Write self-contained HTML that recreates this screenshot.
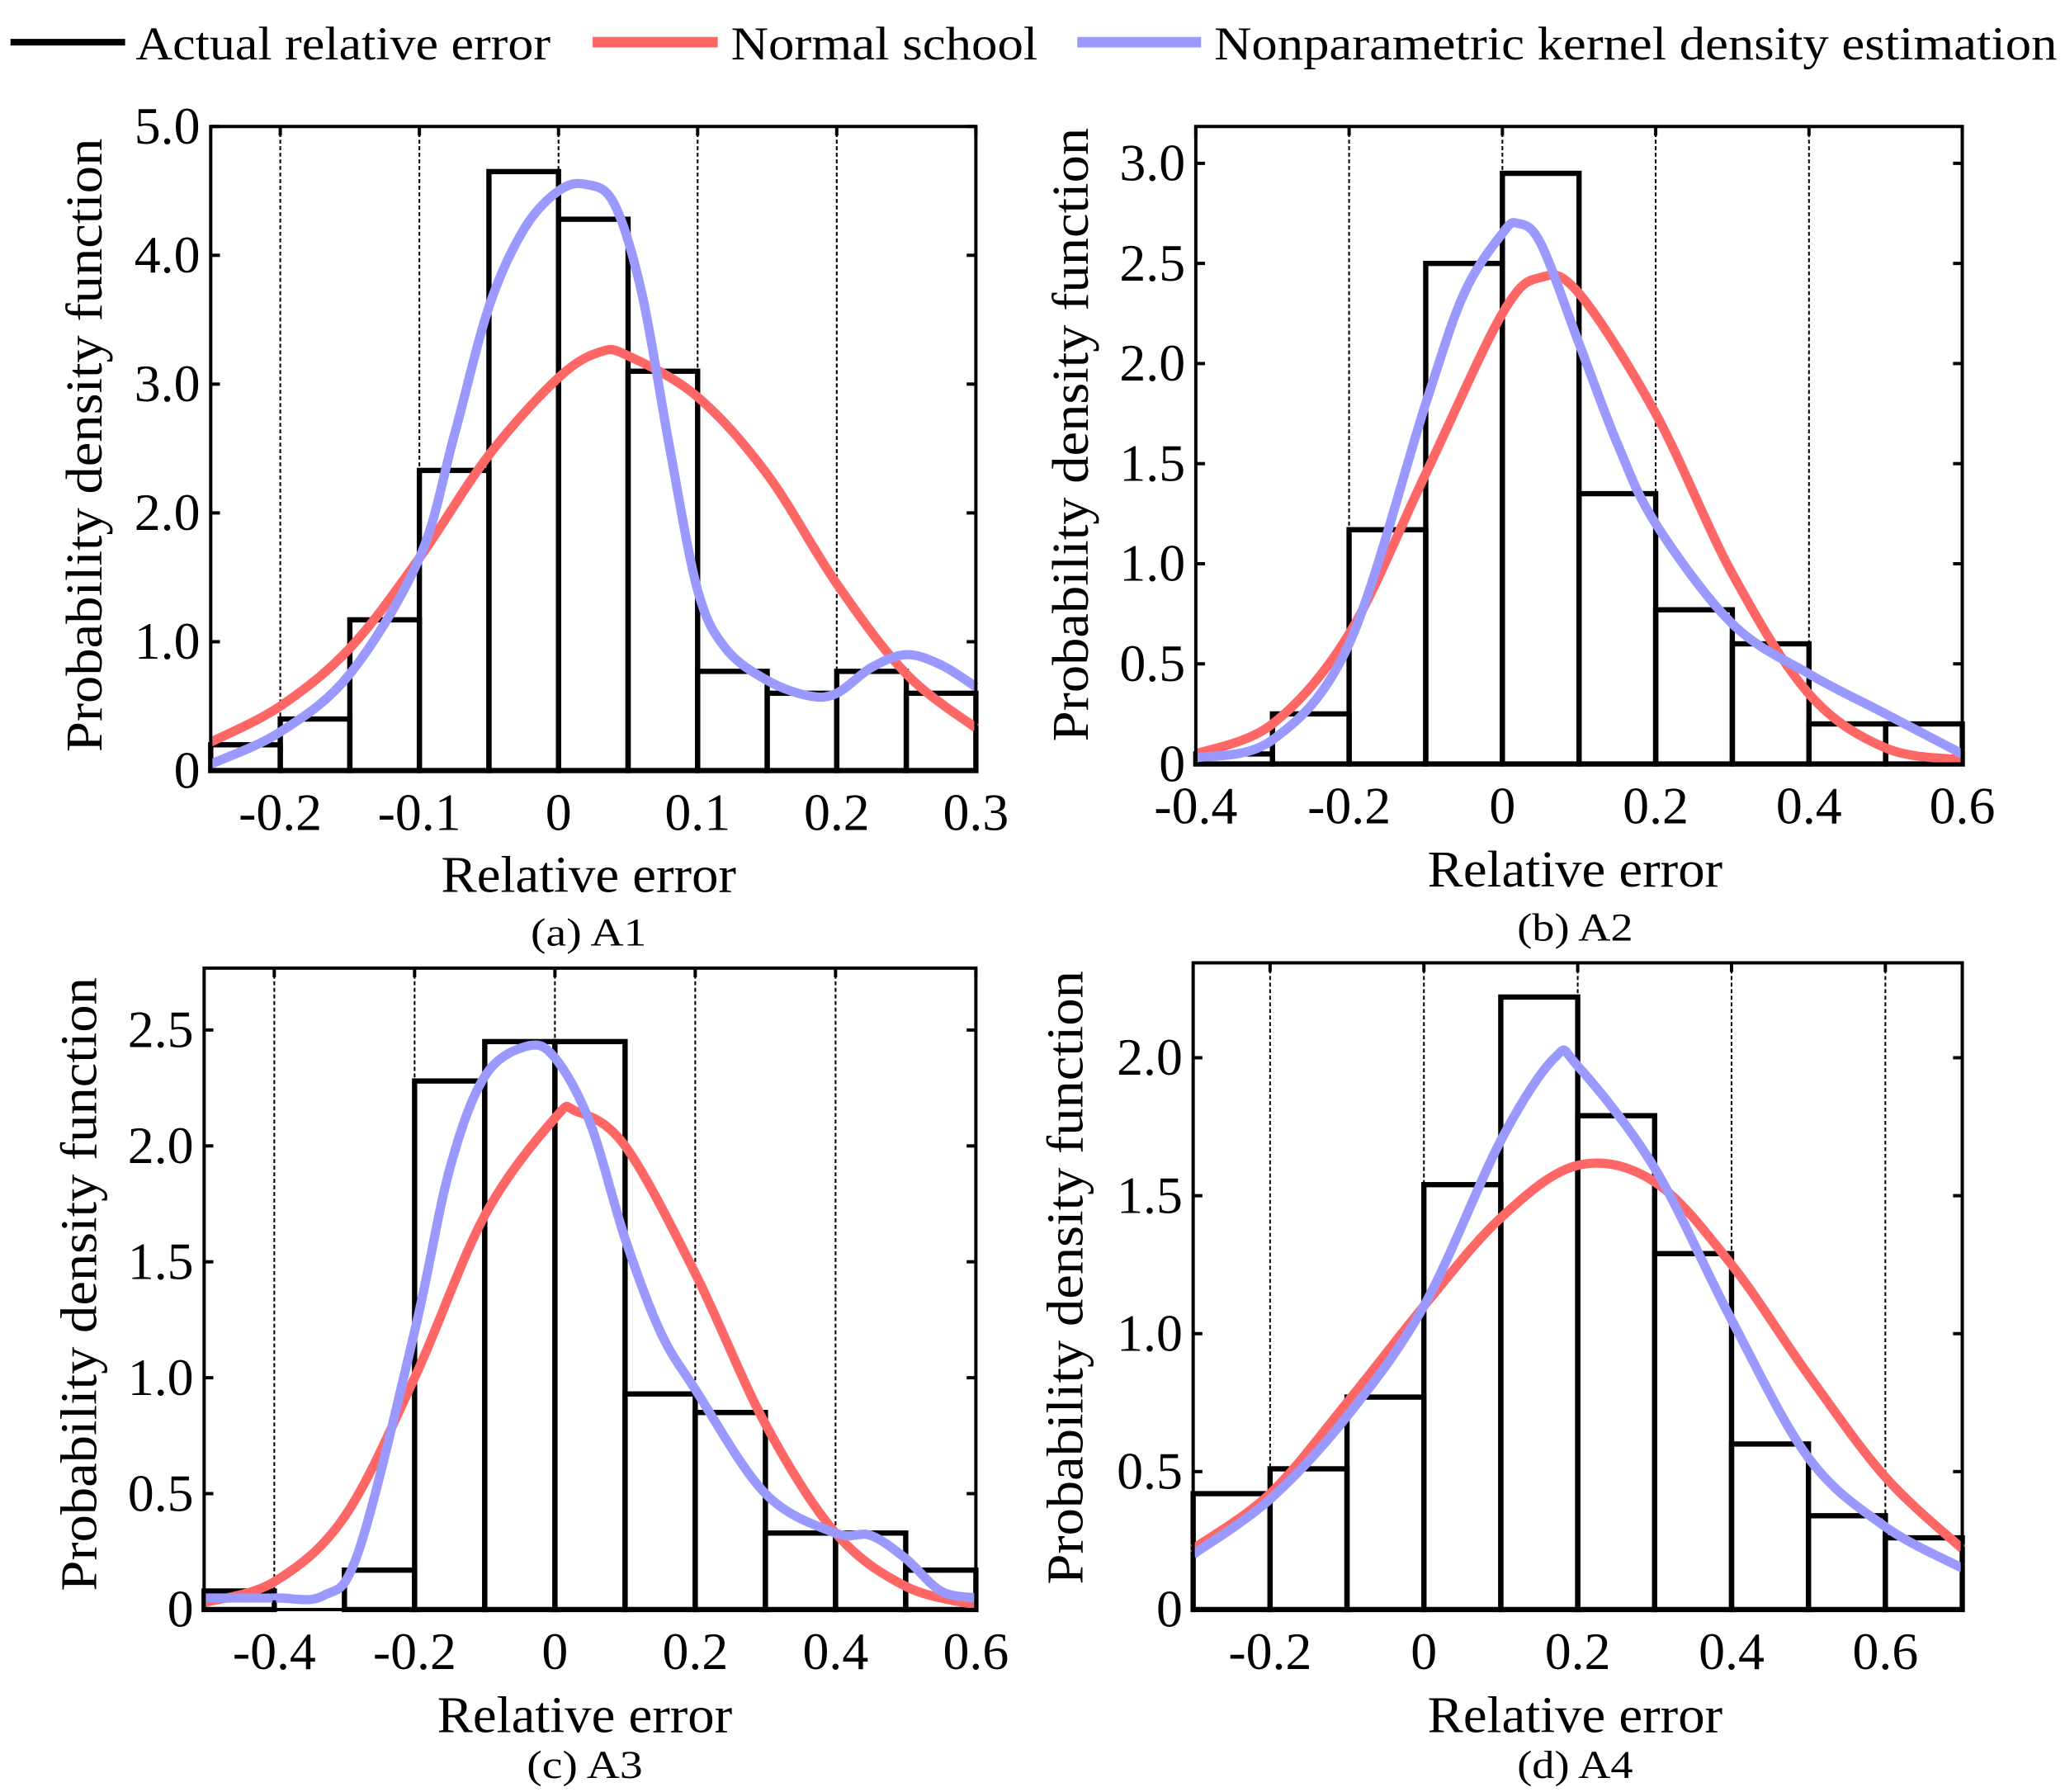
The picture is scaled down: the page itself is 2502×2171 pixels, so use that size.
<!DOCTYPE html>
<html><head><meta charset="utf-8"><style>
html,body{margin:0;padding:0;background:#fff;}
svg{display:block;font-family:"Liberation Serif",serif;}
</style></head><body>
<svg id="root" xmlns="http://www.w3.org/2000/svg" width="2502" height="2171" viewBox="0 0 1568 1360.5">
<g font-size="36">
 <line x1="8" y1="32" x2="95" y2="32" stroke="#000" stroke-width="5"/>
 <text x="103" y="45" textLength="315" lengthAdjust="spacingAndGlyphs">Actual relative error</text>
 <line x1="450" y1="32" x2="545" y2="32" stroke="#ff6666" stroke-width="8"/>
 <text x="555" y="45" textLength="233" lengthAdjust="spacingAndGlyphs">Normal school</text>
 <line x1="818" y1="32" x2="912" y2="32" stroke="#9999ff" stroke-width="8"/>
 <text x="922" y="45" textLength="640" lengthAdjust="spacingAndGlyphs">Nonparametric kernel density estimation</text>
</g>
</svg>
<script>
// ---- A1 ----
const a1Edges=[-0.25,-0.2,-0.15,-0.1,-0.05,0,0.05,0.1,0.15,0.2,0.25,0.3];
const a1Bars=[0.2,0.4,1.17,2.33,4.65,4.28,3.1,0.77,0.6,0.77,0.6];
const a1NormX=[-0.25,-0.2,-0.15,-0.1,-0.05,0,0.03,0.05,0.1,0.15,0.2,0.25,0.3];
const a1NormY=[0.22,0.5,0.95,1.65,2.45,3.05,3.25,3.22,2.9,2.3,1.45,0.75,0.33];
const a1KdeX=[-0.25,-0.2,-0.15,-0.1,-0.075,-0.05,-0.025,0,0.02,0.04,0.06,0.08,0.1,0.12,0.15,0.18,0.2,0.225,0.25,0.275,0.3];
const a1KdeY=[0.05,0.3,0.75,1.65,2.6,3.6,4.2,4.5,4.55,4.4,3.7,2.5,1.4,0.95,0.7,0.58,0.6,0.8,0.9,0.82,0.65];
const a1XTicks=[-0.2,-0.1,0,0.1,0.2,0.3];
const a1XLabels=["-0.2","-0.1","0","0.1","0.2","0.3"];
const a1YTicks=[0,1,2,3,4,5];
const a1YLabels=["0","1.0","2.0","3.0","4.0","5.0"];
// ---- A2 ----
const a2Edges=[-0.4,-0.3,-0.2,-0.1,0,0.1,0.2,0.3,0.4,0.5,0.6];
const a2Bars=[0.05,0.25,1.17,2.5,2.95,1.35,0.77,0.6,0.2,0.2];
const a2NormX=[-0.4,-0.3,-0.2,-0.1,0,0.05,0.1,0.2,0.3,0.4,0.5,0.6];
const a2NormY=[0.05,0.2,0.65,1.45,2.25,2.43,2.35,1.75,0.95,0.35,0.08,0.02];
const a2KdeX=[-0.4,-0.3,-0.2,-0.1,-0.05,0,0.02,0.05,0.1,0.15,0.2,0.3,0.4,0.5,0.6];
const a2KdeY=[0.03,0.12,0.6,1.8,2.35,2.65,2.7,2.6,2.1,1.6,1.2,0.7,0.45,0.25,0.05];
const a2XTicks=[-0.4,-0.2,0,0.2,0.4,0.6];
const a2XLabels=["-0.4","-0.2","0","0.2","0.4","0.6"];
const a2YTicks=[0,0.5,1,1.5,2,2.5,3];
const a2YLabels=["0","0.5","1.0","1.5","2.0","2.5","3.0"];
// ---- A3 ----
const a3Edges=[-0.5,-0.4,-0.3,-0.2,-0.1,0,0.1,0.2,0.3,0.4,0.5,0.6];
const a3Bars=[0.08,0,0.17,2.28,2.45,2.45,0.93,0.85,0.33,0.33,0.17];
const a3NormX=[-0.5,-0.4,-0.3,-0.2,-0.1,0,0.03,0.1,0.2,0.3,0.4,0.5,0.6];
const a3NormY=[0.03,0.12,0.4,1.0,1.7,2.12,2.15,2.0,1.45,0.8,0.33,0.1,0.02];
const a3KdeX=[-0.5,-0.4,-0.33,-0.28,-0.2,-0.15,-0.1,-0.04,0,0.05,0.1,0.15,0.2,0.3,0.4,0.45,0.5,0.55,0.6];
const a3KdeY=[0.05,0.05,0.06,0.25,1.2,1.9,2.3,2.43,2.38,2.1,1.6,1.2,0.95,0.5,0.33,0.32,0.22,0.08,0.05];
const a3XTicks=[-0.4,-0.2,0,0.2,0.4,0.6];
const a3XLabels=["-0.4","-0.2","0","0.2","0.4","0.6"];
const a3YTicks=[0,0.5,1,1.5,2,2.5];
const a3YLabels=["0","0.5","1.0","1.5","2.0","2.5"];
// ---- A4 ----
const a4Edges=[-0.3,-0.2,-0.1,0,0.1,0.2,0.3,0.4,0.5,0.6,0.7];
const a4Bars=[0.42,0.51,0.77,1.54,2.22,1.79,1.29,0.6,0.34,0.26];
const a4NormX=[-0.3,-0.2,-0.1,0,0.1,0.2,0.3,0.4,0.5,0.6,0.7];
const a4NormY=[0.22,0.42,0.75,1.1,1.42,1.61,1.55,1.25,0.85,0.48,0.22];
const a4KdeX=[-0.3,-0.2,-0.1,0,0.1,0.17,0.2,0.3,0.4,0.5,0.6,0.7];
const a4KdeY=[0.2,0.4,0.7,1.1,1.7,2.0,1.97,1.6,1.05,0.55,0.3,0.15];
const a4XTicks=[-0.2,0,0.2,0.4,0.6];
const a4XLabels=["-0.2","0","0.2","0.4","0.6"];
const a4YTicks=[0,0.5,1,1.5,2];
const a4YLabels=["0","0.5","1.0","1.5","2.0"];

const NS="http://www.w3.org/2000/svg";
const root=document.getElementById('root');
function mk(tag,attrs,parent){const e=document.createElementNS(NS,tag);for(const k in attrs)e.setAttribute(k,attrs[k]);parent.appendChild(e);return e;}
function smooth(pts){
 let d='M'+pts[0][0]+','+pts[0][1];
 for(let i=0;i<pts.length-1;i++){
  const p0=pts[i-1]||pts[i],p1=pts[i],p2=pts[i+1],p3=pts[i+2]||p2;
  const c1=[p1[0]+(p2[0]-p0[0])/6,p1[1]+(p2[1]-p0[1])/6];
  const c2=[p2[0]-(p3[0]-p1[0])/6,p2[1]-(p3[1]-p1[1])/6];
  d+=` C${c1[0]},${c1[1]} ${c2[0]},${c2[1]} ${p2[0]},${p2[1]}`;
 }
 return d;
}

function panel(cfg){
 const g=mk('g',{},root);
 
 
 const sx=v=>cfg.x0+(v-cfg.xmin)/(cfg.xmax-cfg.xmin)*(cfg.x1-cfg.x0);
 const sy=v=>cfg.y1-(v-cfg.ymin)/(cfg.ymax-cfg.ymin)*(cfg.y1-cfg.y0);
 cfg.grid.forEach(v=>{const l=mk('line',{x1:sx(v),x2:sx(v),y1:cfg.y0,y2:cfg.y1,stroke:'#000','stroke-width':1.3,'stroke-dasharray':'3,2'},g);
  
  });
 cfg.bars.forEach((h,i)=>{const r=mk('rect',{x:sx(cfg.edges[i]),y:sy(h),width:sx(cfg.edges[i+1])-sx(cfg.edges[i]),height:sy(0)-sy(h),fill:'none',stroke:'#000','stroke-width':4},g);
  
  });
 const line=(xs,ys,col,nm)=>{const p=mk('path',{d:smooth(xs.map((x,i)=>[sx(x),sy(ys[i])])),fill:'none',stroke:col,'stroke-width':7,'stroke-linejoin':'round'},g);
  
  };
 line(cfg.nx,cfg.ny,'#ff6666','normal-curve');
 line(cfg.kx,cfg.ky,'#9999ff','kde-curve');
 const b=mk('rect',{x:cfg.x0,y:cfg.y0,width:cfg.x1-cfg.x0,height:cfg.y1-cfg.y0,fill:'none',stroke:'#000','stroke-width':2.5},g);
 
 
 cfg.xt.forEach((v,i)=>{const X=sx(v);
  mk('line',{x1:X,x2:X,y1:cfg.y1,y2:cfg.y1-7,stroke:'#000','stroke-width':2.5},g);
  mk('line',{x1:X,x2:X,y1:cfg.y0,y2:cfg.y0+7,stroke:'#000','stroke-width':2.5},g);
  const t=mk('text',{x:X,y:cfg.y1+45,'font-size':40,'text-anchor':'middle'},g);t.textContent=cfg.xl[i];
  
  });
 cfg.yt.forEach((v,i)=>{const Y=sy(v);
  mk('line',{x1:cfg.x0,x2:cfg.x0+7,y1:Y,y2:Y,stroke:'#000','stroke-width':2.5},g);
  mk('line',{x1:cfg.x1,x2:cfg.x1-7,y1:Y,y2:Y,stroke:'#000','stroke-width':2.5},g);
  const t=mk('text',{x:cfg.x0-8,y:Y+13,'font-size':40,'text-anchor':'end'},g);t.textContent=cfg.yl[i];
  
  });
 const xt=mk('text',{x:cfg.xtx,y:cfg.xty,'font-size':39,'text-anchor':'middle',textLength:224,lengthAdjust:'spacingAndGlyphs'},g);xt.textContent='Relative error';
 
 
 const yt=mk('text',{x:0,y:0,'font-size':39,'text-anchor':'middle',textLength:466,lengthAdjust:'spacingAndGlyphs',transform:`translate(${cfg.ytx},${cfg.yty}) rotate(-90)`},g);yt.textContent='Probability density function';
 
 
 const c=mk('text',{x:cfg.xtx,y:cfg.cy,'font-size':30,'text-anchor':'middle',textLength:88,lengthAdjust:'spacingAndGlyphs'},g);c.textContent=cfg.cap;
 
 
}
panel({name:'panel-a1',x0:160,x1:741,y0:96,y1:585,xmin:-0.25,xmax:0.3,ymin:0,ymax:5,grid:[-0.2,-0.1,0,0.1,0.2],edges:a1Edges,bars:a1Bars,nx:a1NormX,ny:a1NormY,kx:a1KdeX,ky:a1KdeY,xt:a1XTicks,xl:a1XLabels,yt:a1YTicks,yl:a1YLabels,xtx:447,xty:677,ytx:77,yty:338,cy:718,cap:'(a) A1'});
panel({name:'panel-a2',x0:908,x1:1490,y0:96,y1:580,xmin:-0.4,xmax:0.6,ymin:0,ymax:3.184,grid:[-0.2,0,0.2,0.4],edges:a2Edges,bars:a2Bars,nx:a2NormX,ny:a2NormY,kx:a2KdeX,ky:a2KdeY,xt:a2XTicks,xl:a2XLabels,yt:a2YTicks,yl:a2YLabels,xtx:1196,xty:673,ytx:826,yty:330,cy:714,cap:'(b) A2'});
panel({name:'panel-a3',x0:155,x1:741,y0:735,y1:1222,xmin:-0.5,xmax:0.6,ymin:0,ymax:2.767,grid:[-0.4,-0.2,0,0.2,0.4],edges:a3Edges,bars:a3Bars,nx:a3NormX,ny:a3NormY,kx:a3KdeX,ky:a3KdeY,xt:a3XTicks,xl:a3XLabels,yt:a3YTicks,yl:a3YLabels,xtx:444,xty:1315,ytx:73,yty:975,cy:1350,cap:'(c) A3'});
panel({name:'panel-a4',x0:906,x1:1490,y0:731,y1:1222,xmin:-0.3,xmax:0.7,ymin:0,ymax:2.344,grid:[-0.2,0,0.2,0.4,0.6],edges:a4Edges,bars:a4Bars,nx:a4NormX,ny:a4NormY,kx:a4KdeX,ky:a4KdeY,xt:a4XTicks,xl:a4XLabels,yt:a4YTicks,yl:a4YLabels,xtx:1196,xty:1315,ytx:822,yty:970,cy:1350,cap:'(d) A4'});
</script>
</body></html>
